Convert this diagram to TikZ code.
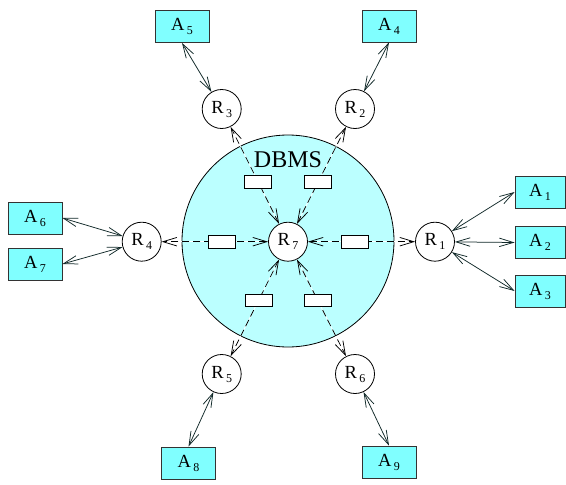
\documentclass[tikz,border=0pt]{standalone}
\usepackage{fontspec}
\setmainfont{Liberation Serif}
\usetikzlibrary{arrows.meta,calc}
\definecolor{boxcyan}{HTML}{80FFFF}
\definecolor{dbcyan}{HTML}{BBFFFF}
\definecolor{linecol}{HTML}{102828}
\newcommand{\lab}[2]{#1\hspace{2.5pt}\raisebox{-4pt}{\fontsize{12}{12}\selectfont #2}}
\begin{document}
\begin{tikzpicture}[x=1pt,y=-1pt,
  appbox/.style={draw=black!80, fill=boxcyan, minimum width=54pt, minimum height=32pt, inner sep=0pt, line width=0.8pt, font=\fontsize{18.5}{18.5}\selectfont},
  narrowbox/.style={appbox, minimum width=50pt},
  rnode/.style={circle, draw, fill=white, minimum size=39pt, inner sep=0pt, line width=0.8pt, font=\fontsize{18.5}{18.5}\selectfont},
  slot/.style={draw, fill=white, minimum width=27pt, minimum height=12.5pt, inner sep=0pt, line width=0.7pt},
  barb/.tip={Straight Barb[length=14pt,width=8.5pt]},
  link/.style={draw=linecol, line width=0.75pt, barb-barb},
  flow/.style={draw=black, line width=0.75pt, dash pattern=on 7pt off 4pt, barb-barb},
  under/.style={draw=white, line width=0.75pt}
]
\useasboundingbox (0,0) rectangle (566,485);
% big DBMS circle
\node[circle, draw, fill=dbcyan, minimum size=212pt, inner sep=0pt, line width=0.8pt] (db) at (288,241) {};
\node[font=\fontsize{24}{24}\selectfont] (dbmslabel) at (288,160) {DBMS};
% R nodes
\node[rnode] (R1) at (435,241.7) {\lab{R}{1}};
\node[rnode] (R2) at (355,109) {\lab{R}{2}};
\node[rnode] (R3) at (221.7,109) {\lab{R}{3}};
\node[rnode] (R4) at (141.7,241.7) {\lab{R}{4}};
\node[rnode] (R5) at (221.7,374) {\lab{R}{5}};
\node[rnode] (R6) at (355,374) {\lab{R}{6}};
\node[rnode] (R7) at (288,241.7) {\lab{R}{7}};
% A nodes
\node[narrowbox] (A1) at (540,192) {\lab{A}{1}};
\node[narrowbox] (A2) at (540,242.5) {\lab{A}{2}};
\node[narrowbox] (A3) at (540,291) {\lab{A}{3}};
\node[appbox] (A4) at (389,26) {\lab{A}{4}};
\node[appbox] (A5) at (182,26.5) {\lab{A}{5}};
\node[appbox] (A6) at (35,218) {\lab{A}{6}};
\node[appbox] (A7) at (35,264) {\lab{A}{7}};
\node[appbox] (A8) at (188.5,463) {\lab{A}{8}};
\node[appbox] (A9) at (389,462) {\lab{A}{9}};
% internal dashed flows
\foreach \r in {R1,R2,R3,R4,R5,R6}{
  \draw[under] (R7) -- (\r);
  \draw[flow] (R7) -- (\r);
}
% slots on the flows
\node[slot] (s1) at ($(R7)!0.455!(R1)$) {};
\node[slot] (s2) at ($(R7)!0.45!(R2)$) {};
\node[slot] (s3) at ($(R7)!0.45!(R3)$) {};
\node[slot] (s4) at ($(R7)!0.45!(R4)$) {};
\node[slot] (s5) at ($(R7)!0.445!(R5)$) {};
\node[slot] (s6) at ($(R7)!0.445!(R6)$) {};
% application links
\draw[link] (R1) -- (A1.west);
\draw[link] (R1) -- (A2.west);
\draw[link] (R1) -- (A3.west);
\draw[link] (A4.south) -- (R2);
\draw[link] (A5.south) -- (R3);
\draw[link] (A6.east) -- (R4);
\draw[link] (A7.east) -- (R4);
\draw[link] (A8.north) -- (R5);
\draw[link] (A9.north) -- (R6);
\end{tikzpicture}
\end{document}
